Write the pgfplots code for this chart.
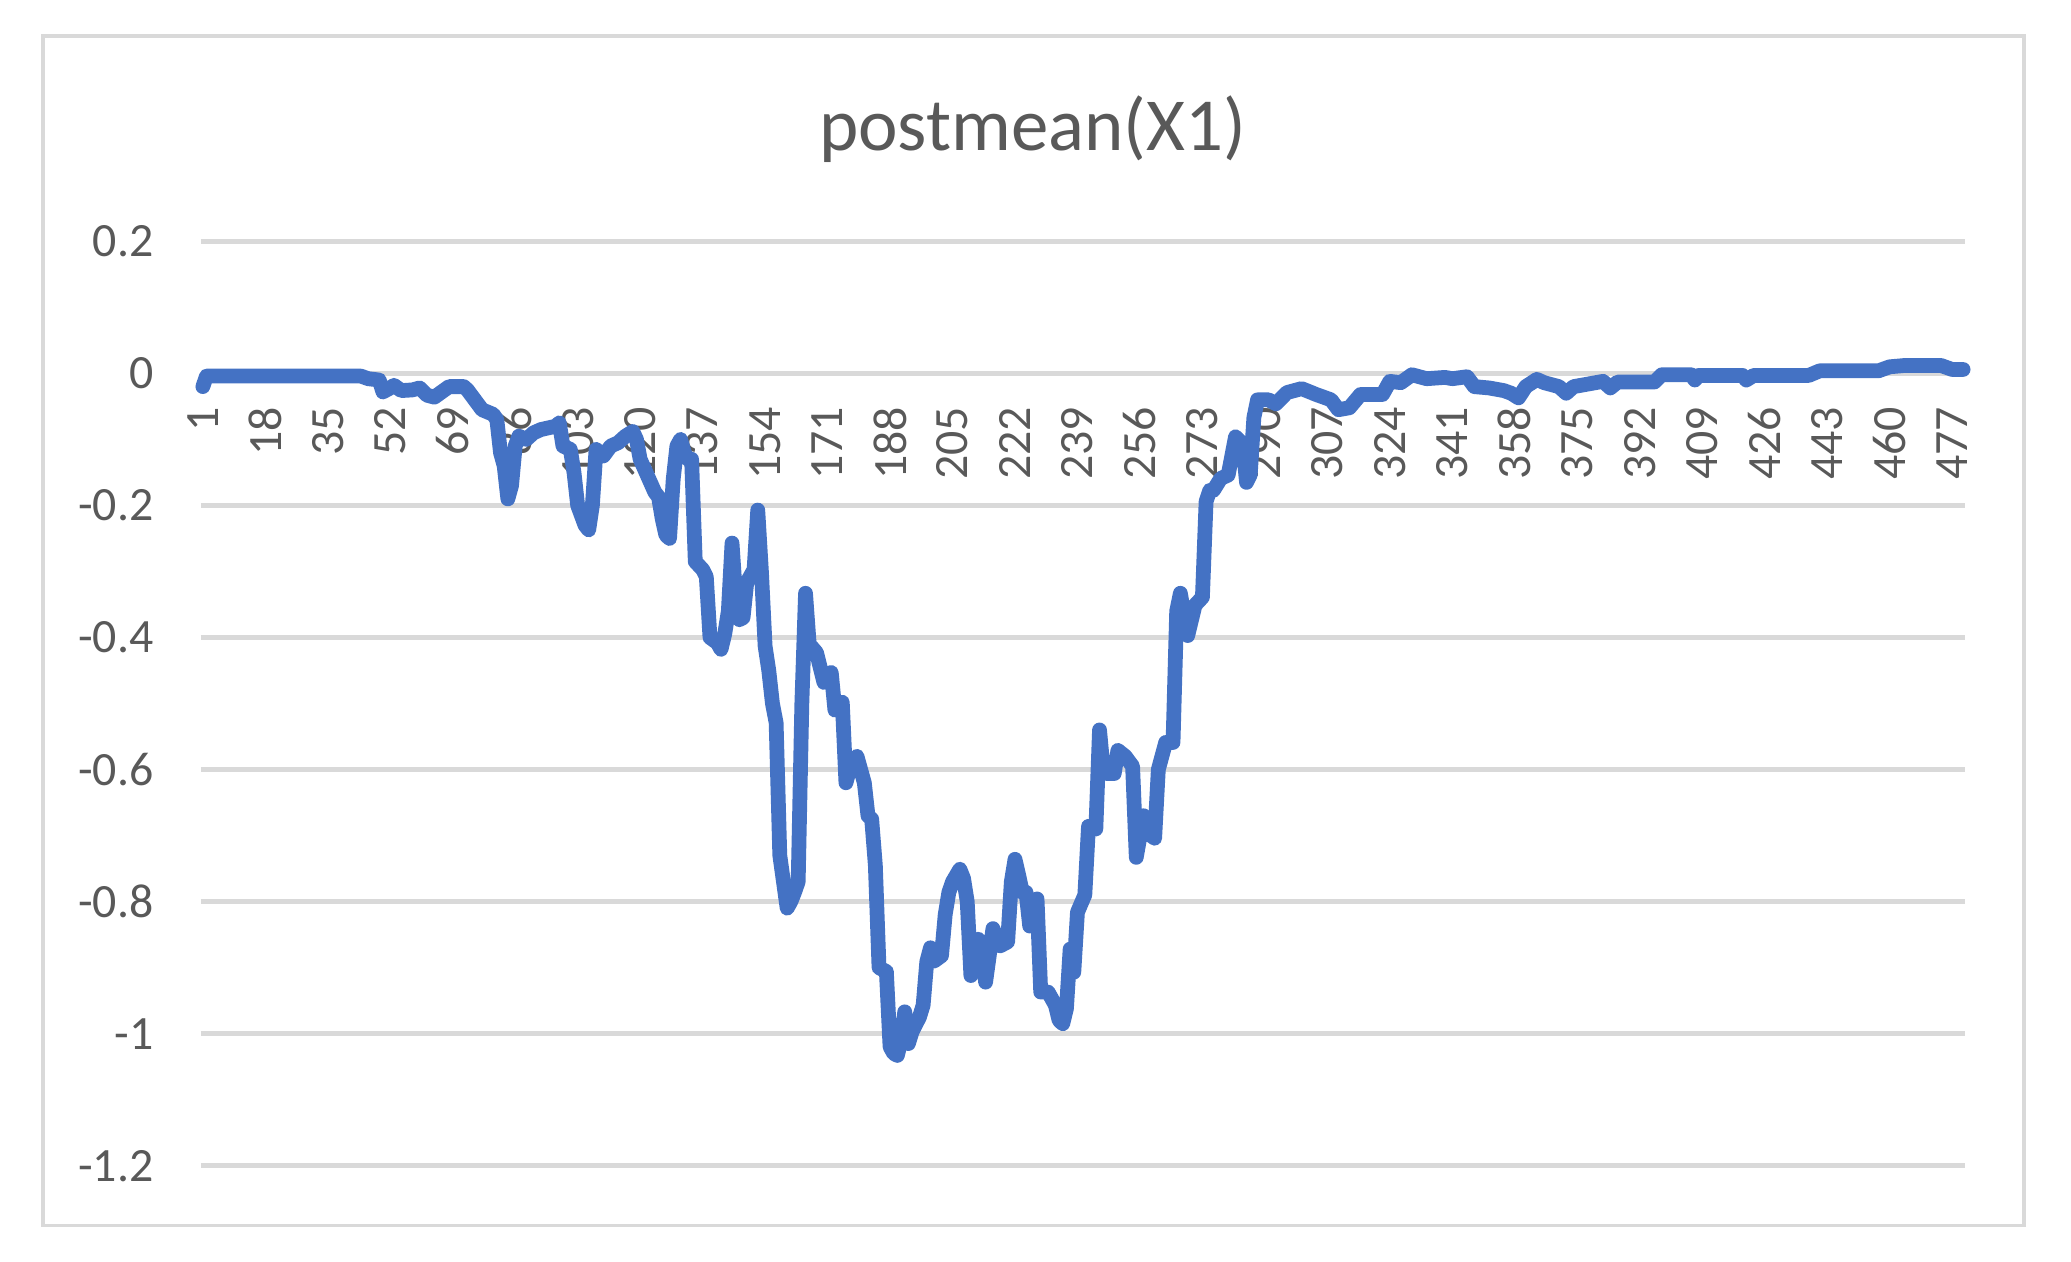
\documentclass[border=0pt]{standalone}
\usepackage{fontspec}
\setmainfont{Carlito}
\usepackage{pgfplots}
\pgfplotsset{compat=1.18}
\definecolor{linecol}{HTML}{4472C4}
\definecolor{gridcol}{HTML}{D9D9D9}
\definecolor{txtcol}{HTML}{595959}
\begin{document}
\begin{tikzpicture}
\useasboundingbox (0,0) rectangle (20.71cm,12.62cm);
\fill[white] (0,0) rectangle (20.71cm,12.62cm);
\draw[gridcol, line width=0.95pt] (0.43cm,0.363cm) rectangle (20.24cm,12.26cm);
\node[anchor=base, font=\fontsize{21.3}{25}\selectfont, text=txtcol] at (10.325cm,11.11cm) {postmean(X1)};
\begin{axis}[
  at={(2.01cm,0.963cm)}, anchor=south west,
  width=17.64cm, height=9.243cm, scale only axis,
  xmin=0.5, xmax=480.5, ymin=-1.2, ymax=0.2,
  axis x line*=middle, axis y line*=left,
  axis line style={draw=none},
  hide obscured x ticks=false, hide obscured y ticks=false,
  xtick={1,18,...,477},
  xticklabels={1,18,35,52,69,86,103,120,137,154,171,188,205,222,239,256,273,290,307,324,341,358,375,392,409,426,443,460,477},
  ytick={-1.2,-1,-0.8,-0.6,-0.4,-0.2,0,0.2},
  yticklabels={-1.2,-1,-0.8,-0.6,-0.4,-0.2,0,0.2},
  major tick length=0pt,
  ymajorgrids, grid style={gridcol, line width=1.3pt},
  tick label style={font=\fontsize{13.6}{16}\selectfont, text=txtcol},
  xticklabel style={rotate=90, anchor=east, inner sep=0pt},
  xticklabel shift=0.33cm,
  yticklabel style={anchor=east, inner sep=0pt},
  yticklabel shift=0.47cm,
  clip=false,
]
\addplot[linecol, line width=4.2pt, line join=round, line cap=round, mark=none] coordinates {
(1,-0.02) (2,-0.004) (44,-0.004) (46,-0.008) (49,-0.01) (50,-0.028) (52,-0.022) (53,-0.018)
(55,-0.026) (58,-0.025) (60,-0.022) (62,-0.033) (64,-0.036) (66,-0.028) (68,-0.02) (72,-0.02)
(73,-0.025) (75,-0.04) (77,-0.055) (80,-0.062) (81,-0.07) (82,-0.12) (83,-0.14) (84,-0.19)
(85,-0.17) (86,-0.11) (87,-0.095) (89,-0.1) (91,-0.09) (93,-0.085) (97,-0.08) (98,-0.075)
(99,-0.11) (101,-0.115) (102,-0.15) (103,-0.2) (105,-0.23) (106,-0.237) (107,-0.2) (108,-0.115)
(110,-0.125) (112,-0.11) (114,-0.105) (116,-0.095) (118,-0.088) (119,-0.1) (120,-0.13) (122,-0.155)
(124,-0.18) (125,-0.187) (126,-0.22) (127,-0.245) (128,-0.25) (129,-0.16) (130,-0.11) (131,-0.1)
(132,-0.12) (133,-0.13) (134,-0.13) (135,-0.285) (137,-0.297) (138,-0.308) (139,-0.4) (141,-0.408)
(142,-0.418) (143,-0.395) (144,-0.36) (145,-0.257) (146,-0.34) (147,-0.373) (148,-0.37) (149,-0.317)
(151,-0.297) (152,-0.207) (153,-0.3) (154,-0.413) (155,-0.45) (156,-0.5) (157,-0.529) (158,-0.73)
(160,-0.81) (161,-0.8) (162,-0.786) (163,-0.77) (164,-0.5) (165,-0.333) (166,-0.41) (168,-0.423)
(170,-0.468) (172,-0.453) (173,-0.51) (175,-0.498) (176,-0.62) (177,-0.6) (179,-0.58) (180,-0.6)
(181,-0.62) (182,-0.67) (183,-0.675) (184,-0.745) (185,-0.9) (187,-0.906) (188,-1.02) (189,-1.03)
(190,-1.033) (191,-1.01) (192,-0.967) (193,-1.015) (194,-0.997) (196,-0.975) (197,-0.957) (198,-0.891)
(199,-0.87) (200,-0.89) (202,-0.882) (203,-0.82) (204,-0.786) (205,-0.77) (207,-0.751) (208,-0.765)
(209,-0.8) (210,-0.912) (211,-0.87) (212,-0.857) (213,-0.867) (214,-0.922) (216,-0.841) (218,-0.867)
(220,-0.861) (221,-0.77) (222,-0.736) (223,-0.76) (224,-0.786) (225,-0.786) (226,-0.837) (228,-0.796)
(229,-0.937) (231,-0.937) (233,-0.957) (234,-0.98) (235,-0.985) (236,-0.962) (237,-0.872) (238,-0.907)
(239,-0.816) (241,-0.79) (242,-0.686) (244,-0.69) (245,-0.54) (246,-0.6) (247,-0.606) (249,-0.606)
(250,-0.571) (252,-0.58) (254,-0.595) (255,-0.733) (257,-0.67) (259,-0.7) (260,-0.704) (261,-0.6)
(263,-0.559) (265,-0.559) (266,-0.36) (267,-0.333) (269,-0.397) (271,-0.351) (273,-0.339) (274,-0.194)
(275,-0.177) (276,-0.177) (278,-0.159) (280,-0.154) (282,-0.096) (284,-0.107) (285,-0.165) (286,-0.154)
(287,-0.067) (288,-0.04) (291,-0.04) (293,-0.046) (296,-0.029) (300,-0.023) (304,-0.032) (308,-0.04)
(310,-0.055) (313,-0.052) (316,-0.032) (322,-0.032) (324,-0.012) (327,-0.014) (330,-0.002) (334,-0.008)
(339,-0.006) (341,-0.008) (345,-0.005) (347,-0.02) (351,-0.022) (355,-0.026) (357,-0.03) (359,-0.037)
(361,-0.02) (364,-0.009) (366,-0.014) (370,-0.02) (372,-0.03) (374,-0.02) (382,-0.012) (384,-0.022)
(386,-0.013) (396,-0.013) (398,-0.002) (406,-0.002) (407,-0.01) (408,-0.003) (420,-0.003) (421,-0.01)
(423,-0.003) (438,-0.003) (441,0.004) (457,0.004) (460,0.01) (464,0.012) (474,0.012) (477,0.006)
(480,0.006)
};
\end{axis}
\end{tikzpicture}
\end{document}
